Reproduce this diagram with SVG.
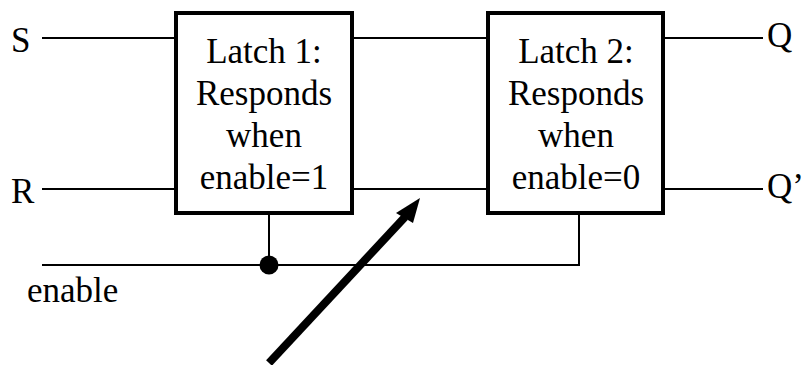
<svg xmlns="http://www.w3.org/2000/svg" width="809" height="365" viewBox="0 0 809 365">
  <style>
    .lbl { font-family: "Liberation Serif", "Times New Roman", serif; font-size: 35px; fill: #000; }
    .mid { text-anchor: middle; }
    .box { fill: #fff; stroke: #000; stroke-width: 4; }
    .wire { fill: none; stroke: #000; stroke-width: 2; }
  </style>
  <rect width="809" height="365" fill="#fff"/>

  <g id="connectors">
    <!-- inputs -->
    <line class="wire" x1="42" y1="38" x2="176" y2="38"/>
    <line class="wire" x1="42" y1="189" x2="176" y2="189"/>
    <!-- latch 1 to latch 2 -->
    <line class="wire" x1="352" y1="38" x2="488" y2="38"/>
    <line class="wire" x1="352" y1="189" x2="488" y2="189"/>
    <!-- outputs -->
    <line class="wire" x1="663" y1="38" x2="763" y2="38"/>
    <line class="wire" x1="663" y1="189" x2="763" y2="189"/>
    <!-- enable bus -->
    <polyline class="wire" points="42,265 579,265 579,213"/>
    <line class="wire" x1="269" y1="213" x2="269" y2="265"/>
    <circle cx="269" cy="265" r="9.5" fill="#000"/>
    <!-- pointer arrow -->
    <line x1="269" y1="363" x2="405" y2="217" stroke="#000" stroke-width="8"/>
    <polygon points="420,198 413,223 396,213" fill="#000"/>
  </g>

  <g id="latch1">
    <rect class="box" x="176" y="13" width="176" height="200"/>
    <text class="lbl mid" x="264" y="63">Latch 1:</text>
    <text class="lbl mid" x="264" y="105">Responds</text>
    <text class="lbl mid" x="264" y="147">when</text>
    <text class="lbl mid" x="264" y="189">enable=1</text>
  </g>

  <g id="latch2">
    <rect class="box" x="488" y="13" width="175" height="200"/>
    <text class="lbl mid" x="576" y="63">Latch 2:</text>
    <text class="lbl mid" x="576" y="105">Responds</text>
    <text class="lbl mid" x="576" y="147">when</text>
    <text class="lbl mid" x="576" y="189">enable=0</text>
  </g>

  <g id="labels">
    <text class="lbl" x="11" y="52">S</text>
    <text class="lbl" x="11" y="203">R</text>
    <text class="lbl" x="767" y="47">Q</text>
    <text class="lbl" x="767" y="198">Q’</text>
    <text class="lbl" x="27" y="302">enable</text>
  </g>
</svg>
